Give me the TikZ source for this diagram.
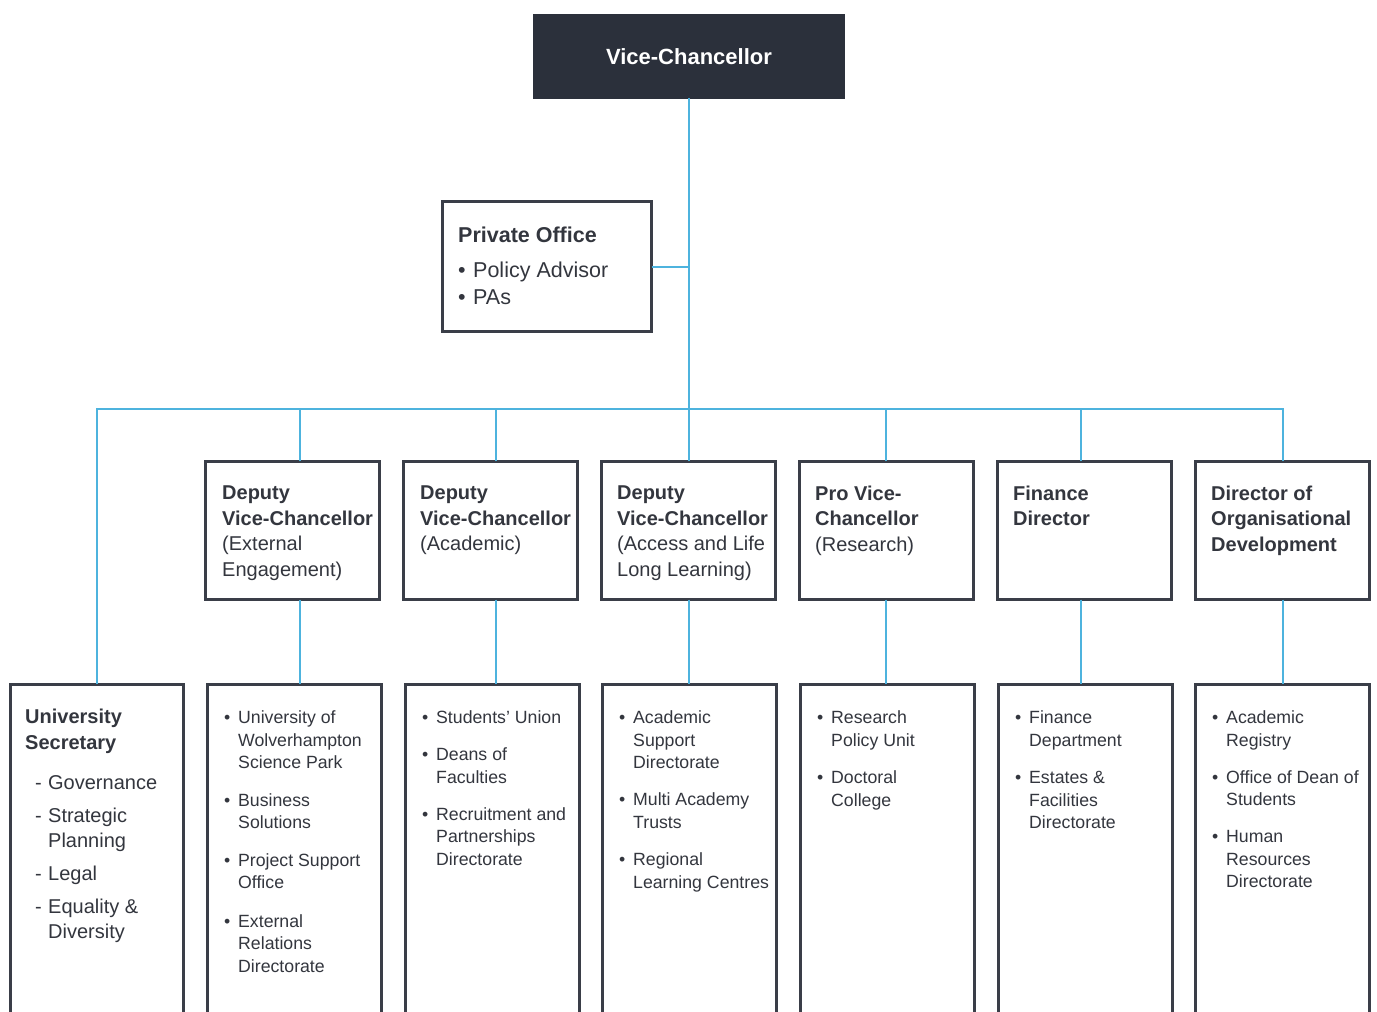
\documentclass[tikz,border=0pt]{standalone}
\usepackage{fontspec}
\setmainfont{Liberation Sans}
\definecolor{vcdark}{HTML}{2B303B}
\definecolor{boxline}{HTML}{3A3E48}
\definecolor{linkblue}{HTML}{4DB3DE}
\definecolor{bodytext}{HTML}{33363E}
\newcommand{\unitbul}{\makebox[14pt][l]{\textbullet}}
\newcommand{\unitind}{\hspace*{14pt}}
\newcommand{\pobul}{\makebox[15pt][l]{\textbullet}}
\newcommand{\secdash}{\hspace*{10pt}\makebox[13pt][l]{-}}
\newcommand{\secind}{\hspace*{23pt}}
\begin{document}
\begin{tikzpicture}[x=1pt,y=-1pt,
    box/.style={draw=boxline,line width=2.6pt,fill=white,inner sep=0pt,outer sep=0pt,
      anchor=north west,minimum width=174.4pt},
    midbox/.style={box,minimum height=138.4pt},
    lowbox/.style={box,minimum height=357pt},
    link/.style={draw=linkblue,line width=2pt},
    head/.style={anchor=north west,inner sep=0pt,align=left,text=bodytext,
      font=\fontsize{20}{25.5}\selectfont},
    unit/.style={anchor=north west,inner sep=0pt,align=left,text=bodytext,
      font=\fontsize{17.7}{22.5}\selectfont}]
  \useasboundingbox (0,0) rectangle (1377,1012);
  \clip (0,0) rectangle (1377,1012);
  % top
  \node[box,fill=vcdark,draw=vcdark,minimum width=309.4pt,minimum height=82.4pt,
    text=white,font=\bfseries\fontsize{22}{26}\selectfont] (vc) at (534.3,15.3) {Vice-Chancellor};
  \node[box,minimum width=209.4pt,minimum height=130.4pt] (office) at (442.3,201.3) {};
  \node[head,font=\fontsize{21.5}{27}\selectfont] at ([shift={(15.7,25)}]office.north west)
    {\textbf{Private Office}\\[8pt]\pobul Policy Advisor\\\pobul PAs};
  % middle row
  \node[midbox] (dvcext) at (205.3,461.3) {};
  \node[midbox] (dvcacad) at (403.3,461.3) {};
  \node[midbox] (dvcall) at (601.3,461.3) {};
  \node[midbox] (pvcres) at (799.3,461.3) {};
  \node[midbox] (findir) at (997.3,461.3) {};
  \node[midbox] (orgdev) at (1195.3,461.3) {};
  \node[head] at ([shift={(16.7,24.5)}]dvcext.north west)
    {\textbf{Deputy}\\\textbf{Vice-Chancellor}\\(External\\Engagement)};
  \node[head] at ([shift={(16.7,24.5)}]dvcacad.north west)
    {\textbf{Deputy}\\\textbf{Vice-Chancellor}\\(Academic)};
  \node[head] at ([shift={(15.7,24.5)}]dvcall.north west)
    {\textbf{Deputy}\\\textbf{Vice-Chancellor}\\(Access and Life\\Long Learning)};
  \node[head] at ([shift={(15.7,24.5)}]pvcres.north west)
    {\textbf{Pro Vice-}\\\textbf{Chancellor}\\(Research)};
  \node[head] at ([shift={(15.7,24.5)}]findir.north west)
    {\textbf{Finance}\\\textbf{Director}};
  \node[head] at ([shift={(15.7,24.5)}]orgdev.north west)
    {\textbf{Director of}\\\textbf{Organisational}\\\textbf{Development}};
  % bottom row
  \node[lowbox,minimum width=173.4pt] (unisec) at (10.3,684.3) {};
  \node[lowbox] (extunits) at (207.3,684.3) {};
  \node[lowbox] (acadunits) at (405.3,684.3) {};
  \node[lowbox] (allunits) at (602.3,684.3) {};
  \node[lowbox] (resunits) at (800.3,684.3) {};
  \node[lowbox] (finunits) at (998.3,684.3) {};
  \node[lowbox] (orgunits) at (1195.3,684.3) {};
  \node[head,font=\fontsize{20}{25}\selectfont] at ([shift={(14.7,24.5)}]unisec.north west)
    {\textbf{University}\\[1pt]\textbf{Secretary}\\[15pt]\secdash Governance\\[8pt]%
     \secdash Strategic\\\secind Planning\\[8pt]\secdash Legal\\[8pt]%
     \secdash Equality \&\\\secind Diversity};
  \node[unit] at ([shift={(16.7,26.5)}]extunits.north west)
    {\unitbul University of\\\unitind Wolverhampton\\\unitind Science Park\\[15pt]%
     \unitbul Business\\\unitind Solutions\\[15pt]%
     \unitbul Project Support\\\unitind Office\\[16pt]%
     \unitbul External\\\unitind Relations\\\unitind Directorate};
  \node[unit] at ([shift={(16.7,26.5)}]acadunits.north west)
    {\unitbul Students' Union\\[14.5pt]%
     \unitbul Deans of\\\unitind Faculties\\[14.5pt]%
     \unitbul Recruitment and\\\unitind Partnerships\\\unitind Directorate};
  \node[unit] at ([shift={(16.7,26.5)}]allunits.north west)
    {\unitbul Academic\\\unitind Support\\\unitind Directorate\\[14.5pt]%
     \unitbul Multi Academy\\\unitind Trusts\\[15pt]%
     \unitbul Regional\\\unitind Learning Centres};
  \node[unit] at ([shift={(16.7,26.5)}]resunits.north west)
    {\unitbul Research\\\unitind Policy Unit\\[15pt]%
     \unitbul Doctoral\\\unitind College};
  \node[unit] at ([shift={(16.7,26.5)}]finunits.north west)
    {\unitbul Finance\\\unitind Department\\[15pt]%
     \unitbul Estates \&\\\unitind Facilities\\\unitind Directorate};
  \node[unit] at ([shift={(16.7,26.5)}]orgunits.north west)
    {\unitbul Academic\\\unitind Registry\\[14.5pt]%
     \unitbul Office of Dean of\\\unitind Students\\[14.5pt]%
     \unitbul Human\\\unitind Resources\\\unitind Directorate};
  % connectors
  \coordinate (hub) at (689,409);
  \draw[link] (vc.south) -- (hub);
  \draw[link] (office.east) -- (office.east -| hub);
  \draw[link] (unisec.north) |- (hub);
  \draw[link] (orgdev.north) |- (hub);
  \draw[link] ([xshift=7pt]dvcext.north) -- ([xshift=7pt]dvcext.north |- hub);
  \draw[link] ([xshift=5pt]dvcacad.north) -- ([xshift=5pt]dvcacad.north |- hub);
  \draw[link] (dvcall.north) -- (dvcall.north |- hub);
  \draw[link] ([xshift=-1pt]pvcres.north) -- ([xshift=-1pt]pvcres.north |- hub);
  \draw[link] ([xshift=-3.5pt]findir.north) -- ([xshift=-3.5pt]findir.north |- hub);
  \draw[link] ([xshift=7pt]dvcext.south) -- ([xshift=7pt]dvcext.south |- extunits.north);
  \draw[link] ([xshift=5pt]dvcacad.south) -- ([xshift=5pt]dvcacad.south |- acadunits.north);
  \draw[link] (dvcall.south) -- (dvcall.south |- allunits.north);
  \draw[link] ([xshift=-1pt]pvcres.south) -- ([xshift=-1pt]pvcres.south |- resunits.north);
  \draw[link] ([xshift=-3.5pt]findir.south) -- ([xshift=-3.5pt]findir.south |- finunits.north);
  \draw[link] (orgdev.south) -- (orgdev.south |- orgunits.north);
\end{tikzpicture}
\end{document}
